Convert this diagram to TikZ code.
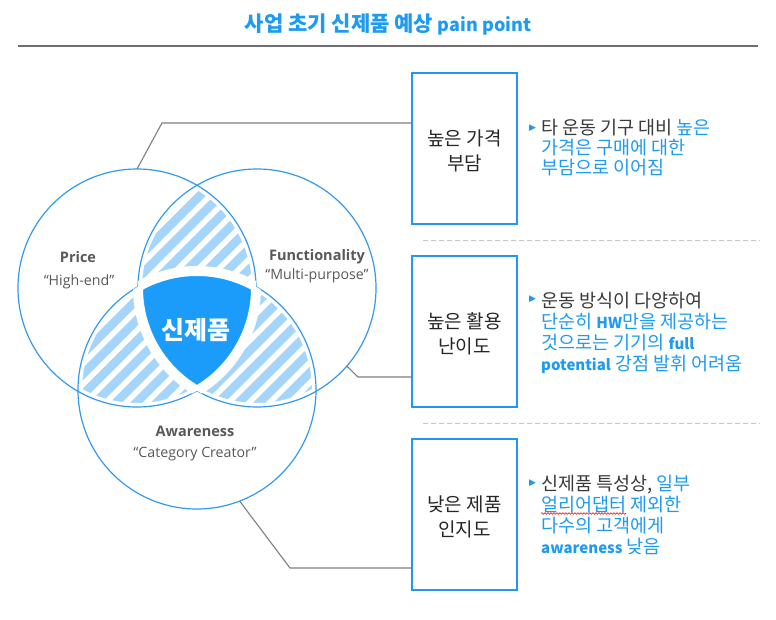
\documentclass[tikz,border=0pt]{standalone}
\usepackage{fontspec}
\setmainfont{Noto Sans CJK KR}
\newfontfamily\latinfont{Open Sans}
\newfontfamily\symfont{DejaVu Sans}
\usetikzlibrary{calc,decorations.pathmorphing}

\definecolor{titleblue}{HTML}{1E9BF0}
\definecolor{ringblue}{HTML}{3399EE}
\definecolor{coreblue}{HTML}{1C9CFA}
\definecolor{hatchblue}{HTML}{A6D5FB}
\definecolor{boxblue}{HTML}{2196F3}
\definecolor{txtblue}{HTML}{1E9BF0}
\definecolor{labgray}{HTML}{595959}
\definecolor{darktxt}{HTML}{262626}
\definecolor{bultxt}{HTML}{3A3A3A}
\definecolor{linkgray}{HTML}{7F7F7F}
\definecolor{rulegray}{HTML}{6E6E72}
\definecolor{dashgray}{HTML}{C4C4CC}

\newcommand\bluetxt[1]{\textcolor{txtblue}{#1}}
\newcommand\entxt[1]{{\bfseries\fontsize{15}{21}\selectfont #1}}

\tikzset{
  painbox/.style={draw=boxblue, line width=1.3pt, minimum width=105pt, minimum height=151pt,
    inner sep=0pt},
  boxlabel/.style={inner sep=0pt, align=center, text=darktxt, font=\fontsize{19}{25}\selectfont},
  link/.style={draw=linkgray, line width=1.1pt},
  bultri/.style={font=\symfont\fontsize{9}{9}\selectfont, text=boxblue, inner sep=0pt},
  bulbody/.style={anchor=north west, inner sep=0pt, align=left, text=bultxt,
    font=\fontsize{18.5}{21}\selectfont},
  labhead/.style={text=labgray, inner sep=0pt, font=\latinfont\bfseries\fontsize{14.5}{17}\selectfont},
  labsub/.style={text=labgray, inner sep=0pt, font=\latinfont\fontsize{14.2}{17}\selectfont},
  sepline/.style={draw=dashgray, line width=1pt, dash pattern=on 5pt off 3pt},
  squiggle/.style={draw=red, line width=0.6pt, decorate,
    decoration={snake, amplitude=0.8pt, segment length=3pt}}
}

\begin{document}
\begin{tikzpicture}[x=1pt,y=-1pt]
\useasboundingbox (0,0) rectangle (776,620);
\fill[white] (0,0) rectangle (776,620);

\def\R{119pt}
\coordinate (cP) at (137,288);
\coordinate (cF) at (257,288);
\coordinate (cA) at (197,390);

% title
\node[text=titleblue, font=\bfseries\fontsize{21}{24}\selectfont] (title) at (388,25) {사업 초기 신제품 예상 {\fontsize{18}{22}\selectfont pain point}};
\draw[rulegray, line width=1.2pt] (18,46) -- (758,46);

% hatched lens regions
\foreach \a/\b in {cP/cF, cP/cA, cF/cA} {
  \begin{scope}
    \clip (\a) circle (\R);
    \clip (\b) circle (\R);
    \foreach \k in {0,...,36}
      \draw[hatchblue, line width=8.5pt] (-390+20.5*\k, 560) -- ++(500,-500);
  \end{scope}
}
% white gaps and ring lines
\foreach \c in {cP,cF,cA} \draw[white, line width=8pt] (\c) circle (\R);
\foreach \c in {cP,cF,cA} \draw[ringblue, line width=1.2pt] (\c) circle (\R);
% core
\begin{scope}
  \clip (cP) circle (\R);
  \clip (cF) circle (\R);
  \fill[coreblue] (cA) circle (\R);
\end{scope}
\foreach \a/\b/\c in {cP/cF/cA, cF/cA/cP, cA/cP/cF} {
  \begin{scope}
    \clip (\b) circle (\R);
    \clip (\c) circle (\R);
    \draw[white, line width=10pt] (\a) circle (\R);
  \end{scope}
}
\node[text=white, inner sep=0pt, font=\bfseries\fontsize{25}{28}\selectfont] (core) at (196,330) {신제품};

% circle labels
\node[labhead] (pricehead) at (78,257) {Price};
\node[labsub] (pricesub) at (79,282) {“High-end”};
\node[labhead] (funchead) at (317,257) {Functionality};
\node[labsub] (funcsub) at (317,276) {“Multi-purpose”};
\node[labhead] (awarehead) at (195,431) {Awareness};
\node[labsub] (awaresub) at (195,454) {“Category Creator”};

% boxes
\node[painbox] (box1) at (464.5,148.5) {};
\node[painbox] (box2) at (464.5,331.5) {};
\node[painbox] (box3) at (464.5,514.5) {};
\node[boxlabel] (box1t) at ($(box1.center)+(0,2.5)$) {높은 가격\\부담};
\node[boxlabel] (box2t) at ($(box2.center)+(0,2.5)$) {높은 활용\\난이도};
\node[boxlabel] (box3t) at ($(box3.center)+(0,2.5)$) {낮은 제품\\인지도};

% connectors
\coordinate (k1) at (162,123);
\coordinate (k2) at (358,377);
\coordinate (k3) at (290,568);
\draw[link] ($(cP)+(90:\R)$) -- (k1) -- (box1.west |- k1);
\draw[link] ($(cF)+(-41:\R)$) -- (k2) -- (box2.west |- k2);
\draw[link] ($(cA)+(-69:\R)$) -- (k3) -- (box3.west |- k3);

% separators
\draw[sepline] (423,241) -- (760,241);
\draw[sepline] (423,423) -- (760,423);

% bullets
\node[bultri] (tri1) at (532.5,128) {▶};
\node[bulbody, font=\fontsize{18.5}{20}\selectfont] (bul1) at (541,119.5) {타 운동 기구 대비 \bluetxt{높은}\\\bluetxt{가격은 구매에 대한}\\\bluetxt{부담으로 이어짐}};
\node[bultri] (tri2) at (532.5,299) {▶};
\node[bulbody] (bul2) at (541,291.5) {운동 방식이 다양하여\\\bluetxt{단순히 \entxt{HW}만을 제공하는}\\\bluetxt{것으로는 기기의 \entxt{full}}\\\bluetxt{\entxt{potential} 강점 발휘 어려움}};
\node[bultri] (tri3) at (532.5,483) {▶};
\node[bulbody] (bul3) at (541,474.5) {신제품 특성상, \bluetxt{일부}\\\bluetxt{얼리어댑터 제외한}\\\bluetxt{다수의 고객에게}\\\bluetxt{\entxt{awareness} 낮음}};
\coordinate (sq1) at (541,513.5);
\coordinate (sq2) at (626,513.5);
\draw[squiggle] (sq1) -- (sq2);
\end{tikzpicture}
\end{document}
